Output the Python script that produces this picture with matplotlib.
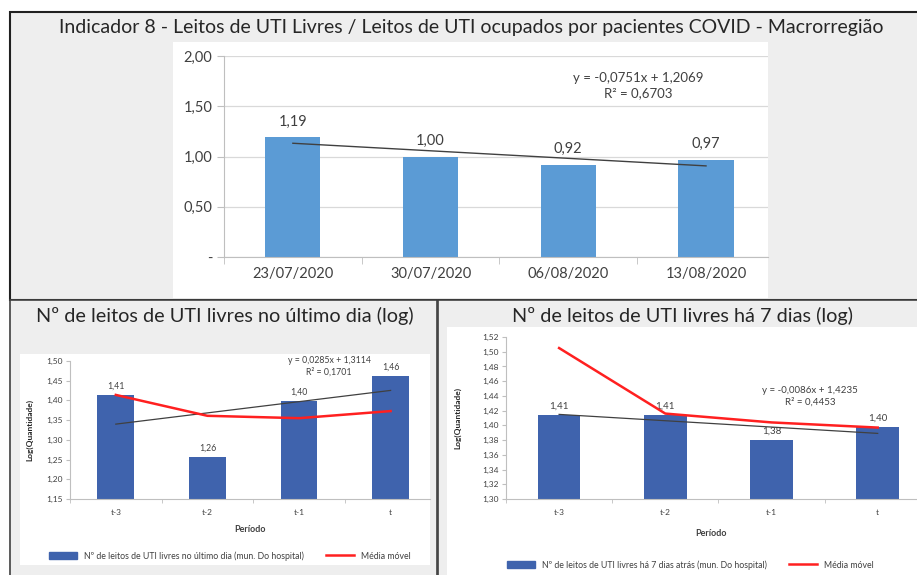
import matplotlib
matplotlib.use('Agg')
import matplotlib.pyplot as plt
from matplotlib.patches import Rectangle, Patch
from matplotlib.lines import Line2D
import numpy as np

plt.rcParams['font.family'] = ['Lato', 'DejaVu Sans']

W, H = 917, 575

# Indicador 8 - razao leitos livres / ocupados
datas = ['23/07/2020', '30/07/2020', '06/08/2020', '13/08/2020']
razao = [1.19, 1.00, 0.92, 0.97]
razao_trend = (-0.0751, 1.2069, 0.6703)   # inclinacao, intercepto, R2

# leitos livres no ultimo dia (log)
periodos = ['t-3', 't-2', 't-1', 't']
leitos_ultimo = [1.414, 1.256, 1.399, 1.462]
media_ultimo = [1.414, 1.361, 1.355, 1.373]
trend_ultimo = (0.0285, 1.3114, 0.1701)

# leitos livres ha 7 dias (log)
leitos_7d = [1.414, 1.414, 1.380, 1.398]
media_7d = [1.505, 1.416, 1.404, 1.397]
trend_7d = (-0.0086, 1.4235, 0.4453)

TXT = '#404040'
GRID = '#d9d9d9'
AXC = '#bfbfbf'


def virgula(v, casas=2):
    return f'{v:.{casas}f}'.replace('.', ',')


def eq_txt(tr):
    m, b, r2 = tr
    return f'y = {virgula(m, 4)}x + {virgula(b, 4)}\nR² = {virgula(r2, 4)}'


def px_ax(x0, y0, x1, y1):
    # caixa em pixels (topo-esquerda) -> coords da figura
    return [x0 / W, 1 - y1 / H, (x1 - x0) / W, (y1 - y0) / H]


def caixa(fig, x0, y0, x1, y1, fc, ec='none', lw=0, z=-10):
    r = Rectangle((x0 / W, 1 - y1 / H), (x1 - x0) / W, (y1 - y0) / H,
                  transform=fig.transFigure, facecolor=fc, edgecolor=ec,
                  linewidth=lw, zorder=z)
    fig.patches.append(r)


def estilo(ax, fs, xlim, tick_len=4):
    n = 4
    ax.set_xlim(*xlim)
    ax.set_xticks(range(n))
    ax.set_xticks([i - 0.5 for i in range(n)], minor=True)
    ax.tick_params(axis='x', which='major', length=0, labelsize=fs,
                   colors=TXT, pad=7)
    ax.tick_params(axis='x', which='minor', length=tick_len, color=AXC)
    ax.tick_params(axis='y', length=tick_len, color=AXC, labelsize=fs,
                   colors=TXT)
    for s in ['top', 'right']:
        ax.spines[s].set_visible(False)
    for s in ['left', 'bottom']:
        ax.spines[s].set_color(AXC)
    ax.set_axisbelow(True)


fig = plt.figure(figsize=(W / 100, H / 100), dpi=100)

# paineis (fundo cinza, area branca dos graficos)
caixa(fig, 10, 12, 920, 300, '#eeeeee', '#202020', 1.5)
caixa(fig, 173, 42, 768, 298, 'white', z=-9)
caixa(fig, 10, 300, 437, 578, '#eeeeee', '#404040', 1.2)
caixa(fig, 20, 354, 430, 565, 'white', z=-9)
caixa(fig, 438, 300, 920, 578, '#eeeeee', '#404040', 1.2)
caixa(fig, 447, 327, 920, 578, 'white', z=-9)

fig.text(471 / W, 1 - 28 / H,
         'Indicador 8 - Leitos de UTI Livres / Leitos de UTI ocupados por '
         'pacientes COVID - Macrorregião',
         ha='center', va='center', fontsize=14, color='#262626')
fig.text(225 / W, 1 - 316 / H, 'Nº de leitos de UTI livres no último dia (log)',
         ha='center', va='center', fontsize=14.3, color='#262626')
fig.text(683 / W, 1 - 316 / H, 'Nº de leitos de UTI livres há 7 dias (log)',
         ha='center', va='center', fontsize=14.3, color='#262626')

# grafico de cima
ax = fig.add_axes(px_ax(224, 56, 768, 257))
x = np.arange(len(datas))
ax.bar(x, razao, width=0.4, color='#5b9bd5', zorder=2)
m, b, _ = razao_trend
ax.plot(x, [m * (i + 1) + b for i in x], color='#404040', lw=1, zorder=3)
for i, v in enumerate(razao):
    ax.annotate(virgula(v), (i, v), xytext=(0, 6), textcoords='offset points',
                ha='center', va='bottom', fontsize=10.5, color=TXT)
ax.set_ylim(0, 2)
ax.set_yticks([0, 0.5, 1, 1.5, 2])
ax.set_yticklabels(['-', '0,50', '1,00', '1,50', '2,00'])
ax.grid(axis='y', color=GRID, lw=0.9)
estilo(ax, 10.5, (-0.5, 3.45), tick_len=5)
ax.set_xticklabels(datas)
fig.text(638 / W, 1 - 86 / H, eq_txt(razao_trend), ha='center', va='center',
         fontsize=9.5, color=TXT, linespacing=1.3)


def painel_log(box, vals, media, trend, ylim, yticks, xlim, eq_pos,
               ylab_x, xlab_y, leg_y, leg_txt, leg_x, fs_lab):
    ax = fig.add_axes(px_ax(*box))
    x = np.arange(len(periodos))
    ax.bar(x, [v - ylim[0] for v in vals], bottom=ylim[0], width=0.4,
           color='#3f63ad', zorder=2)
    ax.plot(x, media, color='#ff2020', lw=1.8, zorder=4)
    m, b, _ = trend
    ax.plot(x, [m * (i + 1) + b for i in x], color='#404040', lw=0.9,
            zorder=3)
    for i, v in enumerate(vals):
        ax.annotate(virgula(v), (i, v), xytext=(0, 3),
                    textcoords='offset points', ha='center', va='bottom',
                    fontsize=fs_lab, color=TXT)
    ax.set_ylim(*ylim)
    ax.set_yticks(yticks)
    ax.set_yticklabels([virgula(t) for t in yticks])
    estilo(ax, 6, xlim, tick_len=3)
    ax.set_xticklabels(periodos)
    ax.tick_params(axis='y', pad=2)
    fig.text(eq_pos[0] / W, 1 - eq_pos[1] / H, eq_txt(trend), ha='center',
             va='center', fontsize=fs_lab, color=TXT, linespacing=1.3)
    cx = (box[0] + box[2]) / 2
    fig.text(cx / W, 1 - xlab_y / H, 'Período', ha='center', va='center',
             fontsize=6.5, fontweight='bold', color=TXT)
    fig.text(ylab_x / W, 1 - (box[1] + box[3]) / 2 / H, 'Log(Quantidade)',
             ha='center', va='center', rotation=90, fontsize=6,
             fontweight='bold', color='#262626')
    handles = [Patch(color='#3f63ad'),
               Line2D([], [], color='#ff2020', lw=1.8)]
    fig.legend(handles, [leg_txt, 'Média móvel'], loc='center',
               bbox_to_anchor=(leg_x / W, 1 - leg_y / H), ncol=2,
               frameon=False, fontsize=6.3, handlelength=3.2,
               handleheight=0.9, columnspacing=2.5, labelcolor=TXT)
    return ax


painel_log((70, 361, 430, 499), leitos_ultimo, media_ultimo, trend_ultimo,
           (1.15, 1.50), [1.15 + 0.05 * k for k in range(8)],
           (-0.5, 3.43), (329, 366), 30, 529, 556,
           'Nº de leitos de UTI livres no último dia (mun. Do hospital)',
           230, 6.3)

painel_log((506, 337, 917, 499), leitos_7d, media_7d, trend_7d,
           (1.30, 1.52), [1.30 + 0.02 * k for k in range(12)],
           (-0.5, 3.37), (810, 396), 458, 533, 565,
           'Nº de leitos de UTI livres há 7 dias atrás (mun. Do hospital)',
           690, 7)

fig.savefig('out.png', dpi=100)
